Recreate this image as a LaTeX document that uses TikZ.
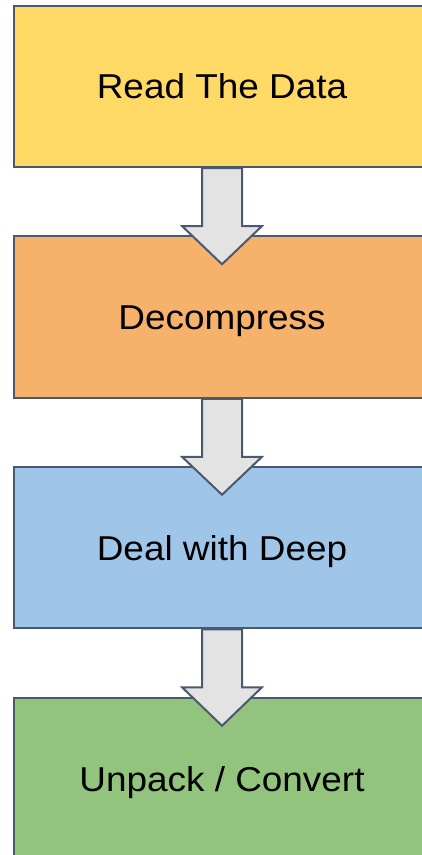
\documentclass[tikz,border=0pt]{standalone}
\usepackage{fontspec}
\setmainfont{Liberation Sans}
\usetikzlibrary{calc}
\definecolor{edgec}{HTML}{4A5870}
\definecolor{c1}{HTML}{FFD966}
\definecolor{c2}{HTML}{F6B26B}
\definecolor{c3}{HTML}{9FC5E8}
\definecolor{c4}{HTML}{93C47D}
\definecolor{arrfill}{HTML}{E3E3E3}
\newcommand{\stagetext}[1]{\scalebox{1.07}[1]{#1}}
\tikzset{
  stagebox/.style={draw=edgec, line width=2pt, minimum width=416pt, minimum height=161.5pt,
    inner sep=0pt, font=\fontsize{34.5}{41}\selectfont, text=black,
    text height=25pt, text depth=0pt},
  blockarrow/.style={draw=edgec, fill=arrfill, line width=2pt, line join=miter}
}
\begin{document}
\begin{tikzpicture}[x=1pt,y=-1pt]
\useasboundingbox (0,0) rectangle (421,855);
\node[stagebox, fill=c1] (a) at (222,86.25) {\stagetext{Read The Data}};
\node[stagebox, fill=c2] (b) at (222,317) {\stagetext{Decompress}};
\node[stagebox, fill=c3] (c) at (222,547.5) {\stagetext{Deal with Deep}};
\node[stagebox, fill=c4] (d) at (222,778.5) {\stagetext{Unpack / Convert}};
\foreach \u/\v in {a/b,b/c,c/d}{
  \draw[blockarrow] ($(\u.south)+(-20,0)$) -- ++(40,0) -- ++(0,58) -- ++(20,0)
    -- ($(\v.north)+(0,29)$) -- ($(\u.south)+(-40,58)$) -- ++(20,0) -- cycle;
}
\end{tikzpicture}
\end{document}
